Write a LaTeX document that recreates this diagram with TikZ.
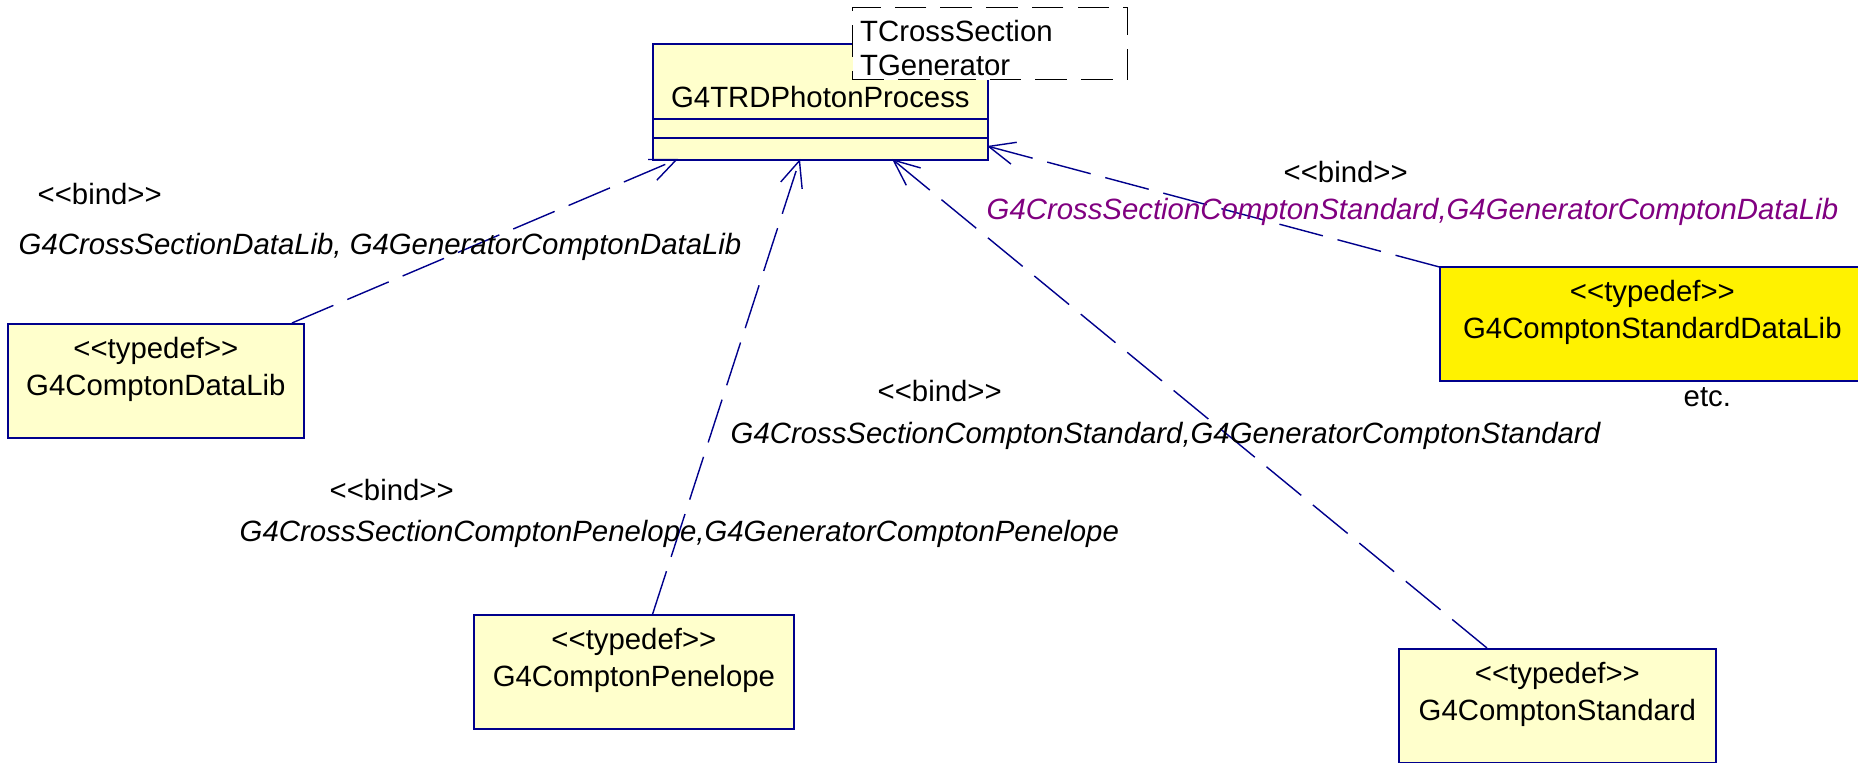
\documentclass[tikz,border=0pt]{standalone}
\usepackage{fontspec}
\setmainfont{Liberation Sans}[Ligatures=TeXOff]
\usetikzlibrary{positioning,arrows.meta}
\definecolor{umlline}{RGB}{0,0,140}
\definecolor{umlfill}{RGB}{255,255,204}
\definecolor{bindpurple}{RGB}{128,0,128}

\begin{document}
\begin{tikzpicture}[
        every node/.style={font=\fontsize{8.35}{10.7}\selectfont},
        typedef/.style={draw=umlline, line width=0.5pt, fill=umlfill, align=center,
            inner xsep=2pt, inner ysep=3.7pt, text depth=8.3pt, anchor=north west},
        compartment/.style={draw=umlline, line width=0.5pt, fill=umlfill,
            minimum width=3.35cm, inner sep=0pt},
        tparams/.style={draw=black, line width=0.4pt, dash pattern=on 9pt off 4pt,
            fill=white, align=left, text width=2.6cm, inner xsep=0.075cm, inner ysep=1pt,
            text height=8.7pt, anchor=north west,
            font=\fontsize{8.35}{9.7}\selectfont},
        lbl/.style={inner sep=0pt, anchor=base west},
        args/.style={lbl, font=\fontsize{8.35}{10.7}\selectfont\itshape},
        binding/.style={draw=umlline, line width=0.4pt, dash pattern=on 12.8pt off 4.3pt,
            -{Straight Barb[length=7.4pt,width=6.4pt]}}
    ]
            \useasboundingbox (0, 0) rectangle (18.58, -7.63);

            % the template class
            \node[compartment, anchor=north west, minimum height=0.75cm,
                text height=15.2pt, text depth=0.1pt] (proc) at (6.52, -0.43) { G4TRDPhotonProcess };
            \node[compartment, minimum height=0.19cm, below=-0.5pt of proc] (procattr) {};
            \node[compartment, minimum height=0.22cm, below=-0.5pt of procattr] (procops) {};
            \node[tparams] (tparam) at (8.52, -0.07) { TCrossSection\\TGenerator };

            % the typedefs
            \node[typedef, minimum width=2.96cm] (datalib) at (0.07, -3.23) { <<typedef>>\\G4ComptonDataLib };
            \node[typedef, minimum width=3.20cm] (penelope) at (4.73, -6.14) { <<typedef>>\\G4ComptonPenelope };
            \node[typedef, minimum width=3.17cm] (standard) at (13.98, -6.48) { <<typedef>>\\G4ComptonStandard };
            \node[typedef, minimum width=4.25cm, fill=yellow] (stdlib) at (14.39, -2.66) { <<typedef>>\\G4ComptonStandardDataLib };
            \node[lbl] (etc) at (16.83, -4.07) { etc. };

            \coordinate (datalibtip) at (6.78, -1.59);
            \coordinate (penelopetip) at (8.00, -1.59);
            \coordinate (standardtip) at (8.92, -1.59);
            \coordinate (stdlibtip) at (9.87, -1.46);

            \draw[binding] (datalib) -- (datalibtip);
            \draw[binding] (penelope) -- (penelopetip);
            \draw[binding] (standard) -- (standardtip);
            \draw[binding] (stdlib) -- (stdlibtip);

            % bindings
            \node[lbl] (bindA) at (0.37, -2.05) { <<bind>> };
            \node[args] (argsA) at (0.18, -2.55) { G4CrossSectionDataLib, G4GeneratorComptonDataLib };
            \node[lbl] (bindB) at (12.83, -1.83) { <<bind>> };
            \node[args, text=bindpurple] (argsB) at (9.86, -2.20) { G4CrossSectionComptonStandard,G4GeneratorComptonDataLib };
            \node[lbl] (bindC) at (8.77, -4.02) { <<bind>> };
            \node[args] (argsC) at (7.30, -4.44) { G4CrossSectionComptonStandard,G4GeneratorComptonStandard };
            \node[lbl] (bindD) at (3.29, -5.01) { <<bind>> };
            \node[args] (argsD) at (2.39, -5.42) { G4CrossSectionComptonPenelope,G4GeneratorComptonPenelope };
        \end{tikzpicture}
\end{document}
